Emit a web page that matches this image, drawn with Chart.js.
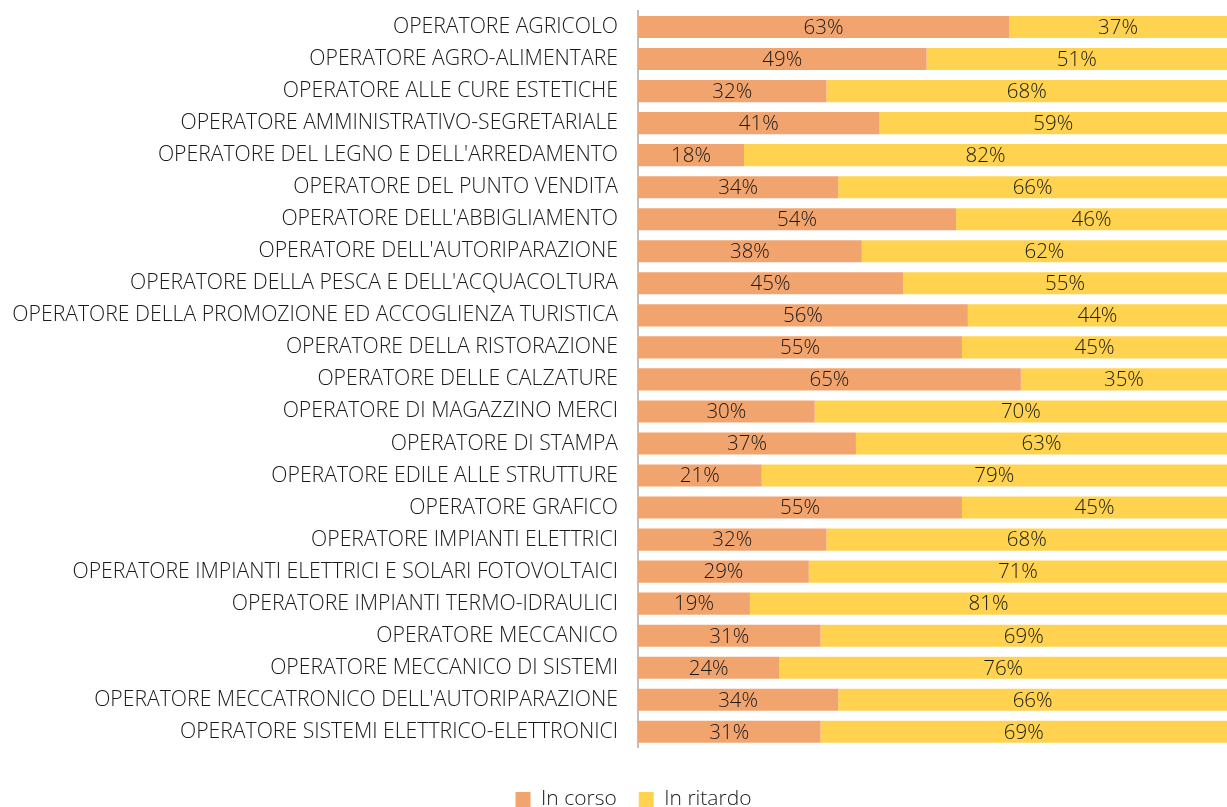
<!DOCTYPE html>
<html><head><meta charset="utf-8">
<script src="https://cdn.jsdelivr.net/npm/chart.js@4"></script>
<style>html,body{margin:0;padding:0;background:#fff;}#c{display:block;}</style>
</head><body>
<canvas id="c" width="1227" height="807"></canvas>
<script>
const categories = ["OPERATORE AGRICOLO","OPERATORE AGRO-ALIMENTARE","OPERATORE ALLE CURE ESTETICHE","OPERATORE AMMINISTRATIVO-SEGRETARIALE","OPERATORE DEL LEGNO E DELL'ARREDAMENTO","OPERATORE DEL PUNTO VENDITA","OPERATORE DELL'ABBIGLIAMENTO","OPERATORE DELL'AUTORIPARAZIONE","OPERATORE DELLA PESCA E DELL'ACQUACOLTURA","OPERATORE DELLA PROMOZIONE ED ACCOGLIENZA TURISTICA","OPERATORE DELLA RISTORAZIONE","OPERATORE DELLE CALZATURE","OPERATORE DI MAGAZZINO MERCI","OPERATORE DI STAMPA","OPERATORE EDILE ALLE STRUTTURE","OPERATORE GRAFICO","OPERATORE IMPIANTI ELETTRICI","OPERATORE IMPIANTI ELETTRICI E SOLARI FOTOVOLTAICI","OPERATORE IMPIANTI TERMO-IDRAULICI","OPERATORE MECCANICO","OPERATORE MECCANICO DI SISTEMI","OPERATORE MECCATRONICO DELL'AUTORIPARAZIONE","OPERATORE SISTEMI ELETTRICO-ELETTRONICI"];
const inCorso = [63,49,32,41,18,34,54,38,45,56,55,65,30,37,21,55,32,29,19,31,24,34,31];
const inRitardo = [37,51,68,59,82,66,46,62,55,44,45,35,70,63,79,45,68,71,81,69,76,66,69];
const seriesNames = ["In corso","In ritardo"];

const FONT = "'Open Sans', sans-serif";
const labelPlugin = {
  id: 'barLabels',
  afterLayout(chart) {
    if (chart.legend) { chart.legend.left += 20; chart.legend.right += 20; }
  },
  afterDatasetsDraw(chart) {
    const ctx = chart.ctx;
    ctx.save();
    ctx.font = "300 20.5px " + FONT;
    ctx.fillStyle = "#1a1a1a";
    ctx.textAlign = "center";
    ctx.textBaseline = "middle";
    chart.data.datasets.forEach((ds, di) => {
      const meta = chart.getDatasetMeta(di);
      meta.data.forEach((bar, i) => {
        const x = (bar.x + bar.base) / 2;
        ctx.fillText(ds.data[i] + "%", x, bar.y + 1);
      });
    });
    ctx.restore();
  }
};

new Chart(document.getElementById('c'), {
  type: 'bar',
  data: {
    labels: categories,
    datasets: [
      {label: seriesNames[0], data: inCorso, backgroundColor: '#F2A46E', categoryPercentage: 0.69, barPercentage: 1},
      {label: seriesNames[1], data: inRitardo, backgroundColor: '#FFD34F', categoryPercentage: 0.69, barPercentage: 1}
    ]
  },
  options: {
    indexAxis: 'y',
    responsive: false,
    animation: false,
    layout: {padding: {top: 11, right: 0, left: 0, bottom: -13}},
    scales: {
      x: {stacked: true, min: 0, max: 100, display: false},
      y: {stacked: true,
          afterFit(scale) { scale.width = 638; scale.paddingTop = 0; scale.paddingBottom = 0; },
          grid: {display: false, drawTicks: false},
          border: {display: true, color: '#BFBFBF', width: 2},
          ticks: {color: '#1a1a1a', font: {family: FONT, size: 21.2, weight: 300}, padding: 20, autoSkip: false}
      }
    },
    plugins: {
      legend: {position: 'bottom',
        title: {display: true, text: ' ', font: {size: 1}, padding: {top: 0, bottom: 18}},
        labels: {color: '#1a1a1a', font: {family: FONT, size: 21, weight: 300}, boxWidth: 15, boxHeight: 15, padding: 22}},
      tooltip: {enabled: false}
    }
  },
  plugins: [labelPlugin]
});
</script>
</body></html>
